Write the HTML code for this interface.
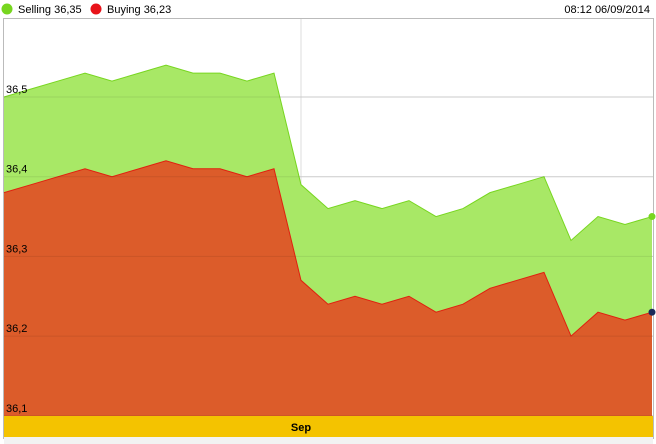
<!DOCTYPE html>
<html><head><meta charset="utf-8"><style>
body{margin:0;width:656px;height:444px;overflow:hidden;background:#fff;font-family:"Liberation Sans",sans-serif;}
</style></head><body>
<svg width="656" height="444" style="position:absolute;left:0;top:0">
<g font-size="11" fill="#000">
<circle cx="7" cy="9" r="5.5" fill="#77d61f"/>
<text x="18" y="13">Selling 36,35</text>
<circle cx="96" cy="9" r="5.5" fill="#e8131a"/>
<text x="107" y="13">Buying 36,23</text>
<text x="650" y="13" text-anchor="end">08:12 06/09/2014</text>
</g>
<rect x="3.5" y="18.5" width="650" height="420" fill="#fff" stroke="#bbb"/>
<g id="grid"></g>
<g id="series"></g>
<g id="labels" font-size="11" fill="#000"></g>
<rect x="4" y="416" width="649" height="21" fill="#f4c300"/>
<rect x="4" y="437" width="649" height="7" fill="#f2f2f2"/>
<text x="301" y="431" text-anchor="middle" font-size="11" font-weight="bold">Sep</text>
</svg>
<script>
const selling=[36.50,36.51,36.52,36.53,36.52,36.53,36.54,36.53,36.53,36.52,36.53,36.39,36.36,36.37,36.36,36.37,36.35,36.36,36.38,36.39,36.40,36.32,36.35,36.34,36.35];
const buying=[36.38,36.39,36.40,36.41,36.40,36.41,36.42,36.41,36.41,36.40,36.41,36.27,36.24,36.25,36.24,36.25,36.23,36.24,36.26,36.27,36.28,36.20,36.23,36.22,36.23];
const yTicks=[36.5,36.4,36.3,36.2,36.1];
const yTickLabels=["36,5","36,4","36,3","36,2","36,1"];
const NS="http://www.w3.org/2000/svg";
const X=i=>4+i*(648/(selling.length-1));
const Y=v=>97+(36.5-v)*797;
const base=416;
const grid=document.getElementById('grid'),ser=document.getElementById('series'),lab=document.getElementById('labels');
function mk(t,a,p){const e=document.createElementNS(NS,t);for(const k in a)e.setAttribute(k,a[k]);p.appendChild(e);return e;}
yTicks.forEach((v,i)=>{
 const l=mk('line',{x1:4,x2:653,y1:Y(v),y2:Y(v),stroke:'#ddd'},grid);
 
 
});
const vl=mk('line',{x1:301,x2:301,y1:19,y2:416,stroke:'#ddd'},grid);


function area(d,fill,stroke,name){
 let pts=d.map((v,i)=>X(i)+','+Y(v)).join(' ');
 const a=mk('polygon',{points:X(0)+','+base+' '+pts+' '+X(d.length-1)+','+base,fill:fill},ser);
 
 
 const l=mk('polyline',{points:pts,fill:'none',stroke:stroke,'stroke-width':1},ser);
 
 
}
area(selling,'#a8e866','#77d61f','selling');
area(buying,'#dc5c2a','#e0200f','buying');
yTicks.forEach((v,i)=>{
 const l=mk('line',{x1:4,x2:653,y1:Y(v),y2:Y(v),stroke:'rgba(0,0,0,0.08)'},ser);
 
 
 const t=mk('text',{x:6,y:Y(v)-4},lab);t.textContent=yTickLabels[i];
 
 
});
const n=selling.length-1;
const d1=mk('circle',{cx:X(n),cy:Y(selling[n]),r:3.5,fill:'#77d61f'},ser);


const d2=mk('circle',{cx:X(n),cy:Y(buying[n]),r:3.5,fill:'#1a2a5a'},ser);


</script>
</body></html>
